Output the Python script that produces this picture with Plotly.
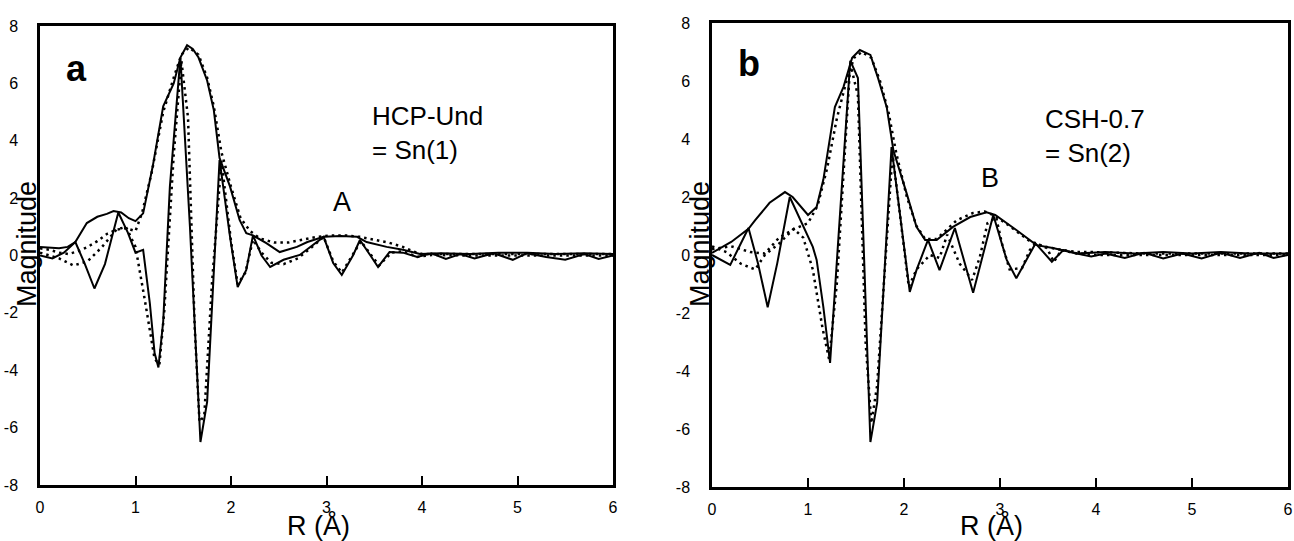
import plotly.graph_objects as go

W, H = 1294, 541

# ---------------- Panel a (HCP-Und = Sn(1)) ----------------
a_mag_R = [0, 0.2, 0.29, 0.37, 0.49, 0.6, 0.7, 0.77, 0.85, 0.93, 1.0, 1.08, 1.18, 1.29, 1.4, 1.47,
           1.54, 1.6, 1.66, 1.75, 1.82, 1.88, 1.99, 2.09, 2.16, 2.23, 2.37, 2.51, 2.69, 2.8, 2.97,
           3.15, 3.32, 3.42, 3.63, 3.8, 3.98, 4.2, 4.5, 4.8, 5.1, 5.4, 5.7, 6.0]
a_mag = [0.3, 0.25, 0.3, 0.47, 1.13, 1.35, 1.45, 1.55, 1.5, 1.3, 1.2, 1.47, 3.1, 5.2, 6.0, 6.9,
         7.33, 7.2, 6.9, 6.1, 5.07, 3.4, 2.4, 1.24, 0.78, 0.7, 0.43, 0.12, 0.3, 0.47, 0.65,
         0.68, 0.65, 0.47, 0.3, 0.2, 0.05, 0.08, 0.05, 0.1, 0.1, 0.05, 0.08, 0.05]

a_mag_fit_R = [0, 0.1, 0.2, 0.3, 0.4, 0.5, 0.6, 0.7, 0.8, 0.9, 1.0, 1.07, 1.17, 1.29, 1.4, 1.48,
               1.56, 1.66, 1.75, 1.82, 1.9, 2.0, 2.1, 2.2, 2.3, 2.45, 2.6, 2.75, 2.9, 3.05, 3.2,
               3.35, 3.5, 3.65, 3.8, 3.9, 4.0, 4.5, 5.0, 5.5, 6.0]
a_mag_fit = [0.25, 0.2, 0.1, 0.05, 0.15, 0.3, 0.5, 0.75, 0.9, 0.95, 0.85, 1.5, 2.9, 5.0, 6.2, 7.0,
             7.25, 7.0, 6.2, 5.2, 3.6, 2.4, 1.3, 0.85, 0.6, 0.45, 0.45, 0.55, 0.65, 0.7, 0.7,
             0.65, 0.55, 0.45, 0.3, 0.15, 0.05, 0.05, 0.05, 0.05, 0.05]

a_im_R = [0, 0.13, 0.25, 0.37, 0.47, 0.57, 0.68, 0.82, 0.92, 1.0, 1.08, 1.15, 1.2, 1.24, 1.29,
          1.36, 1.47, 1.57, 1.68, 1.75, 1.88, 1.99, 2.07, 2.16, 2.23, 2.32, 2.41, 2.55, 2.72,
          2.83, 2.97, 3.07, 3.16, 3.28, 3.35, 3.46, 3.54, 3.66, 3.8, 3.95, 4.1, 4.25, 4.4,
          4.55, 4.75, 4.95, 5.1, 5.3, 5.5, 5.7, 5.85, 6.0]
a_im = [0.0, -0.1, 0.1, 0.47, -0.3, -1.15, -0.3, 1.5, 0.8, 0.1, 0.2, -1.66, -3.4, -3.9, -2.3,
        2.4, 6.9, 1.0, -6.5, -5.1, 3.33, 0.65, -1.1, -0.5, 0.7, 0.0, -0.4, -0.15, 0.02,
        0.3, 0.65, -0.26, -0.68, 0.02, 0.54, 0.0, -0.4, 0.12, 0.1, -0.05, 0.08, -0.12, 0.05,
        -0.1, 0.08, -0.15, 0.08, -0.05, -0.15, 0.05, -0.12, 0.0]

a_im_fit_R = [0, 0.2, 0.35, 0.5, 0.65, 0.8, 0.9, 1.0, 1.1, 1.2, 1.25, 1.3, 1.4, 1.48, 1.55, 1.62,
              1.67, 1.72, 1.8, 1.9, 2.0, 2.07, 2.15, 2.23, 2.32, 2.42, 2.55, 2.7, 2.85, 2.97,
              3.07, 3.16, 3.27, 3.36, 3.46, 3.55, 3.68, 3.8, 3.95, 4.1, 4.5, 5.0, 5.5, 6.0]
a_im_fit = [0.1, -0.1, -0.35, -0.2, 0.3, 0.9, 1.0, 0.3, -1.6, -3.6, -3.8, -2.0, 3.5, 6.8, 4.8,
            -2.5, -5.8, -5.6, -1.0, 3.3, 0.5, -1.0, -0.6, 0.55, 0.1, -0.25, -0.3, -0.1, 0.3,
            0.65, -0.2, -0.6, 0.0, 0.5, 0.05, -0.35, 0.1, 0.15, -0.05, 0.02, 0.0, 0.0, 0.0, 0.0]

# ---------------- Panel b (CSH-0.7 = Sn(2)) ----------------
b_mag_R = [0, 0.2, 0.38, 0.45, 0.6, 0.76, 0.84, 0.95, 1.0, 1.09, 1.16, 1.28, 1.37, 1.46, 1.54,
           1.65, 1.73, 1.82, 1.89, 2.03, 2.13, 2.22, 2.34, 2.51, 2.69, 2.86, 2.95, 3.17, 3.38,
           3.55, 3.8, 4.1, 4.4, 4.7, 5.0, 5.3, 5.6, 6.0]
b_mag = [0.07, 0.45, 0.9, 1.2, 1.8, 2.17, 2.0, 1.55, 1.38, 1.66, 2.6, 5.1, 5.8, 6.8, 7.07,
         6.9, 6.1, 5.1, 3.6, 2.1, 0.97, 0.52, 0.52, 0.97, 1.31, 1.47, 1.38, 0.86, 0.34,
         0.24, 0.05, 0.1, 0.05, 0.1, 0.05, 0.1, 0.05, 0.05]

b_mag_fit_R = [0, 0.2, 0.4, 0.55, 0.7, 0.86, 1.0, 1.1, 1.2, 1.3, 1.4, 1.48, 1.56, 1.66, 1.75,
               1.84, 1.92, 2.03, 2.13, 2.22, 2.34, 2.45, 2.55, 2.72, 2.84, 2.95, 3.1, 3.3,
               3.45, 3.6, 3.8, 4.0, 4.5, 5.0, 5.5, 6.0]
b_mag_fit = [0.2, 0.3, 0.1, 0.05, 0.6, 0.9, 1.1, 1.7, 3.0, 4.7, 6.0, 6.8, 7.0, 6.8, 6.0,
             4.9, 3.5, 2.0, 1.0, 0.55, 0.55, 0.9, 1.2, 1.45, 1.5, 1.35, 1.0, 0.5, 0.3,
             0.2, 0.1, 0.1, 0.05, 0.05, 0.05, 0.05]

b_im_R = [0, 0.19, 0.38, 0.48, 0.58, 0.68, 0.81, 0.95, 1.05, 1.09, 1.16, 1.23, 1.44, 1.52,
          1.65, 1.72, 1.87, 2.06, 2.13, 2.25, 2.37, 2.53, 2.72, 2.93, 3.07, 3.17, 3.37,
          3.54, 3.66, 3.8, 3.95, 4.1, 4.3, 4.5, 4.7, 4.9, 5.1, 5.3, 5.5, 5.7, 5.85, 6.0]
b_im = [0.0, -0.34, 0.93, -0.3, -1.8, -0.28, 2.0, 0.97, 0.28, -0.17, -1.8, -3.72, 6.7, 6.1,
        -6.45, -5.1, 3.72, -1.27, -0.52, 0.52, -0.52, 0.93, -1.3, 1.38, -0.17, -0.8, 0.4,
        -0.23, 0.17, 0.05, -0.05, 0.05, -0.1, 0.08, -0.12, 0.05, -0.12, 0.08, -0.1, 0.08,
        -0.1, 0.0]

b_im_fit_R = [0, 0.15, 0.3, 0.45, 0.55, 0.7, 0.85, 0.95, 1.05, 1.15, 1.22, 1.3, 1.44, 1.52,
              1.6, 1.66, 1.72, 1.88, 2.05, 2.13, 2.27, 2.37, 2.45, 2.58, 2.71, 2.79, 2.87,
              2.96, 3.02, 3.1, 3.23, 3.31, 3.37, 3.49, 3.56, 3.64, 3.8, 4.0, 4.5, 5.0, 5.5, 6.0]
b_im_fit = [0.3, 0.1, -0.3, -0.5, 0.0, 0.4, 0.9, 0.6, -0.5, -2.5, -3.6, -1.0, 6.6, 5.5,
            -3.0, -5.8, -4.5, 3.5, -1.1, -0.5, 0.0, -0.1, 0.7, -0.3, -0.86, -0.07, 1.1,
            1.3, 0.4, -0.5, -0.45, 0.17, 0.4, 0.24, -0.24, 0.17, 0.05, 0.0, 0.0, 0.0, 0.0, 0.0]

x_ticks = [0, 1, 2, 3, 4, 5, 6]
y_ticks = [-8, -6, -4, -2, 0, 2, 4, 6, 8]
y_ticktext = ["-8", "-6", "-4", "-2", "0", "2", "4", "6", "8"]

SOLID = dict(color="black", width=2)
DOT = dict(color="black", width=2.5, dash="2.5px,4px")

fig = go.Figure()

def add_panel(xa, ya, curves):
    for R, v, style in curves:
        fig.add_trace(go.Scatter(x=R, y=v, mode="lines", line=style, cliponaxis=False,
                                 xaxis=xa, yaxis=ya, showlegend=False, hoverinfo="skip"))

add_panel("x", "y", [(a_mag_fit_R, a_mag_fit, DOT), (a_im_fit_R, a_im_fit, DOT),
                     (a_mag_R, a_mag, SOLID), (a_im_R, a_im, SOLID)])
add_panel("x2", "y2", [(b_mag_fit_R, b_mag_fit, DOT), (b_im_fit_R, b_im_fit, DOT),
                       (b_mag_R, b_mag, SOLID), (b_im_R, b_im, SOLID)])

FONT = "Liberation Sans, Arial, sans-serif"

def xaxis_cfg(dom, anchor):
    return dict(domain=dom, anchor=anchor, range=[0, 6], tickvals=x_ticks,
                ticks="inside", ticklen=9, tickwidth=2, tickcolor="black",
                showline=True, linewidth=2.5, linecolor="black", mirror=True,
                showgrid=False, zeroline=False, ticklabelstandoff=6, automargin=False,
                tickfont=dict(family=FONT, size=16, color="black"))

def yaxis_cfg(dom, anchor):
    return dict(domain=dom, anchor=anchor, range=[-8, 8], tickvals=y_ticks,
                ticktext=y_ticktext,
                ticks="", showline=True, linewidth=2.5, linecolor="black", mirror=True,
                showgrid=False, zeroline=False, ticklabelstandoff=16, automargin=False,
                tickfont=dict(family=FONT, size=16, color="black"))

def px(x):
    return x / W

def py(y):
    return 1 - y / H

annotations = [
    dict(x=px(27), y=py(244), text="Magnitude", textangle=-90, font=dict(size=27)),
    dict(x=px(700), y=py(244), text="Magnitude", textangle=-90, font=dict(size=27)),
    dict(x=px(318), y=py(525), text="R (Å)", font=dict(size=27)),
    dict(x=px(991), y=py(525), text="R (Å)", font=dict(size=27)),
    dict(x=px(76), y=py(68), text="<b>a</b>", font=dict(size=36)),
    dict(x=px(749), y=py(64), text="<b>b</b>", font=dict(size=36)),
    dict(x=px(370), y=py(133), text="HCP-Und<br>= Sn(1)", xanchor="left", align="left",
         font=dict(size=26)),
    dict(x=px(1043), y=py(136), text="CSH-0.7<br>= Sn(2)", xanchor="left", align="left",
         font=dict(size=26)),
    dict(x=px(342), y=py(202), text="A", font=dict(size=27)),
    dict(x=px(990), y=py(178), text="B", font=dict(size=27)),
]
for a in annotations:
    a.update(xref="paper", yref="paper", showarrow=False)
    a.setdefault("xanchor", "center")
    a["yanchor"] = "middle"
    a["font"].update(family=FONT, color="black")

fig.update_layout(
    width=W, height=H,
    margin=dict(l=0, r=0, t=0, b=0, autoexpand=False),
    paper_bgcolor="white", plot_bgcolor="white",
    xaxis=xaxis_cfg([px(40), px(613)], "y"),
    yaxis=yaxis_cfg([py(485), py(26)], "x"),
    xaxis2=xaxis_cfg([px(712), px(1288)], "y2"),
    yaxis2=yaxis_cfg([py(487), py(23)], "x2"),
    annotations=annotations,
    font=dict(family=FONT, color="black"),
)

fig.write_html(
    "out.html",
    config={"displayModeBar": False},
    post_script="document.body.style.margin='0';document.body.style.padding='0';"
                "document.body.style.overflow='hidden';"
                "document.documentElement.style.overflow='hidden';",
)
